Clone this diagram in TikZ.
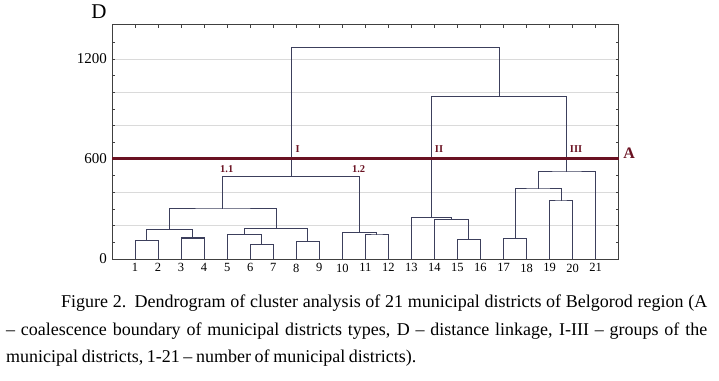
\documentclass[tikz,border=0pt]{standalone}
\usepackage{fontspec}
\setmainfont{Liberation Serif}
\usetikzlibrary{calc}
\definecolor{linkblue}{HTML}{3C3F5C}
\definecolor{cutred}{HTML}{6A1222}
\definecolor{gridgray}{HTML}{DADADA}
\tikzset{
  link/.style={
    linkblue,
    line width=1pt
  },
  gridline/.style={
    gridgray,
    line width=0.8pt
  },
  cutline/.style={
    cutred,
    line width=3pt
  },
  frame/.style={
    black!75,
    line width=1pt
  },
  tick/.style={
    black!75,
    line width=0.7pt
  },
  leaflabel/.style={
    font=\fontsize{12.5}{14}\selectfont,
    inner sep=0pt,
    anchor=north
  },
  grouplabel/.style={
    cutred,
    font=\fontsize{10.5}{12}\selectfont\bfseries,
    inner sep=0pt
  }
}

\begin{document}
\begin{tikzpicture}[x=23.03pt, y=0.16667pt]
\useasboundingbox (-112pt,-121pt) rectangle (607pt,259pt);
\foreach \d in {200,400,...,1200} {
\draw[gridline] (0,\d) -- (22,\d);
}
\draw[frame] (0,0) rectangle (22,1404);
\foreach \i in {1,...,21} {
\draw[tick] (\i,1404) -- ++(0pt,-3pt);
}
\foreach \d in {100,200,...,1300} {
\draw[tick] (0,\d) -- ++(3pt,0pt);
\draw[tick] (22,\d) -- ++(-3pt,0pt);
}
\foreach \i in {1,...,21} {
\coordinate (l\i) at (\i,0);
\node[leaflabel] (n\i) at ([yshift=-4.5pt]l\i) {\i};
}
\foreach \c/\a/\b/\h in {c12/l1/l2/110, c34/l3/l4/126, c14/c12/c34/178,
    c67/l6/l7/86, c57/l5/c67/148, c89/l8/l9/104, c59/c57/c89/182,
    c19/c14/c59/300, c1112/l11/l12/144, c1012/l10/c1112/160,
    gI/c19/c1012/494, c1516/l15/l16/116, c1416/l14/c1516/238,
    gII/l13/c1416/250, c1718/l17/l18/122, c1920/l19/l20/348,
    c1720/c1718/c1920/420, gIII/c1720/l21/522, c2/gII/gIII/974,
    top/gI/c2/1268} {
    \path let \p1=(\a), \p2=(\b) in coordinate (\c) at ({(\x1+\x2)/2},\h);
    \draw[link] (\a) |- (\c) -| (\b);
}
\draw[cutline] (0,600) -- (22,600);
\node[grouplabel] (labI) at (8.06,660) {I};
\node[grouplabel] (labII) at (14.2,660) {II};
\node[grouplabel] (labIII) at (20.15,660) {III};
\node[grouplabel] (lab11) at (4.98,540) {1.1};
\node[grouplabel] (lab12) at (10.71,540) {1.2};
\node[cutred, font=\fontsize{16}{18}\selectfont\bfseries, inner sep=0pt] (labA) at (22.45,636) {A};
\foreach \d in {0,600,1200} {
\node[anchor=east, font=\fontsize{15}{17}\selectfont, inner sep=0pt] (y\d) at ([xshift=-5pt]0,\d) {\d};
}
\node[font=\fontsize{21}{24}\selectfont, inner sep=0pt] (dlabel) at (-13pt,247pt) {D};
\node[anchor=north west, text width=701pt, align=justify, inner sep=0pt,
    font=\fontsize{18}{27.5}\selectfont] (caption) at (-106pt,-36pt)
    {\spaceskip=0.2em plus 1em minus 0.1em
    \hspace*{55pt}Figure 2. Dendrogram of cluster analysis of 21 municipal districts of Belgorod region (A\linebreak
    – coalescence boundary of municipal districts types, D – distance linkage, I-III – groups of the\linebreak
    municipal districts, 1-21 – number of municipal districts).};
\end{tikzpicture}
\end{document}
